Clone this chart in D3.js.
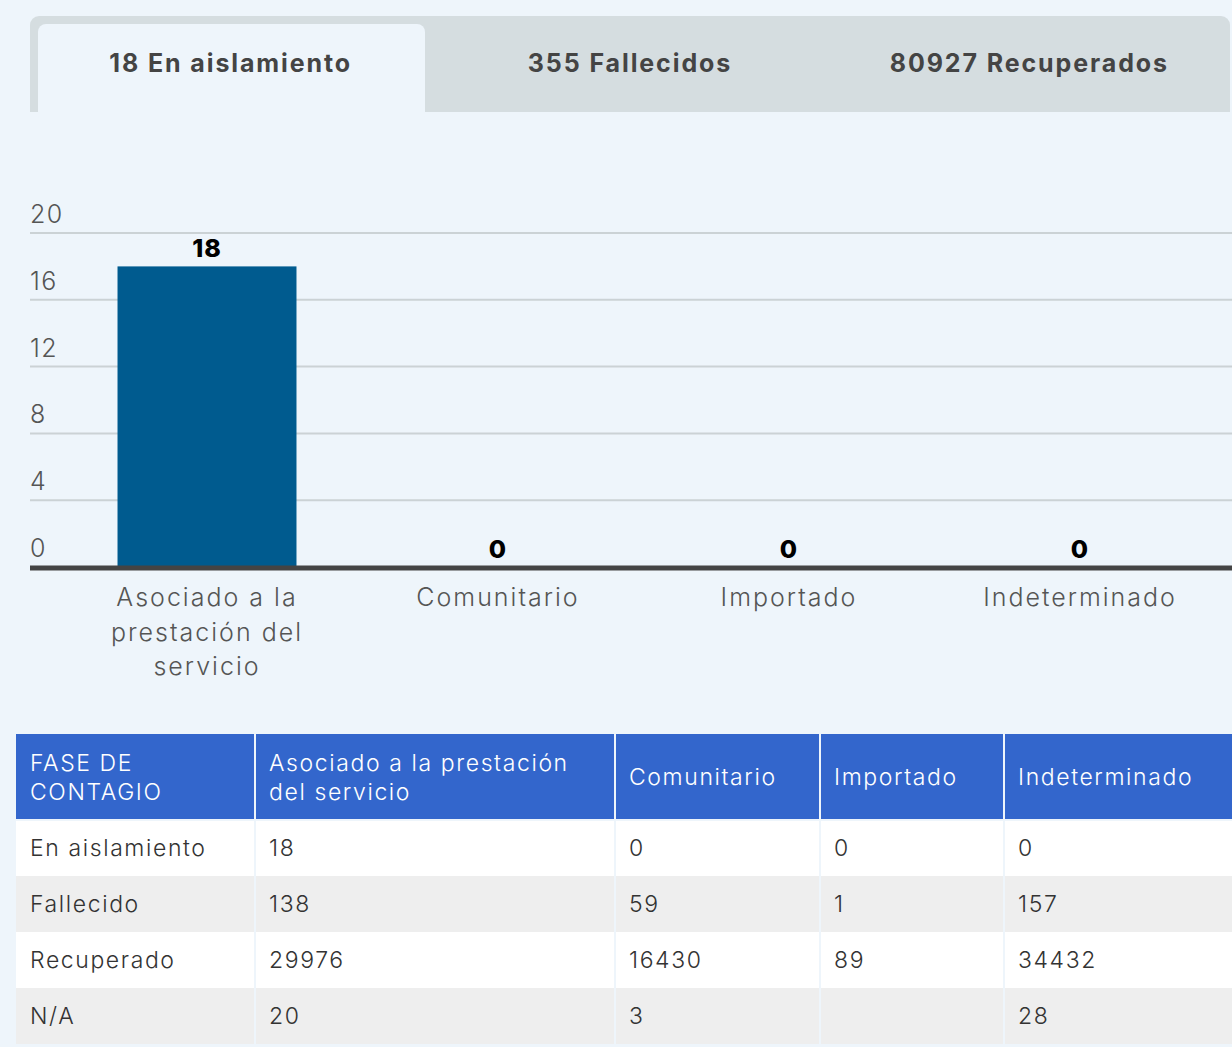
<!DOCTYPE html>
<html>
<head>
<meta charset="utf-8">
<script src="https://cdn.jsdelivr.net/npm/d3@7"></script>
<style>
  html, body { margin: 0; padding: 0; background: #eef5fb; }
  svg { display: block; font-family: "Inter", "Noto Sans", sans-serif; }
</style>
</head>
<body>
<div id="chart"></div>
<script>
// datos
const tabs = ['18 En aislamiento', '355 Fallecidos', '80927 Recuperados']
const categories = ['Asociado a la prestación del servicio', 'Comunitario', 'Importado', 'Indeterminado']
const aislamiento = [18, 0, 0, 0]
const yTicks = [0, 4, 8, 12, 16, 20]

const tableHeader = ['FASE DE CONTAGIO', 'Asociado a la prestación del servicio', 'Comunitario', 'Importado', 'Indeterminado']
const rowLabels = ['En aislamiento', 'Fallecido', 'Recuperado', 'N/A']
const colAsociado = [18, 138, 29976, 20]
const colComunitario = [0, 59, 16430, 3]
const colImportado = [0, 1, 89, null]
const colIndeterminado = [0, 157, 34432, 28]

const width = 1232, height = 1047

const svg = d3.select('#chart').append('svg')
  .attr('width', width)
  .attr('height', height)

// pestañas
svg.append('rect')
  .attr('x', 30).attr('y', 16).attr('width', 1200).attr('height', 110)
  .attr('rx', 9).attr('fill', '#d5dde0')
svg.append('rect') // tapa las esquinas inferiores
  .attr('x', 30).attr('y', 100).attr('width', 1202).attr('height', 30)
  .attr('fill', '#eef5fb')
svg.append('rect')
  .attr('x', 30).attr('y', 90).attr('width', 1200).attr('height', 22)
  .attr('fill', '#d5dde0')
svg.append('rect')
  .attr('x', 38).attr('y', 24).attr('width', 387).attr('height', 100)
  .attr('rx', 8).attr('fill', '#eef5fb')

const tabX = d3.scaleBand().domain(tabs).range([31, 1229])
svg.selectAll('.tab')
  .data(tabs)
  .enter()
  .append('text')
    .attr('x', d => tabX(d) + tabX.bandwidth() / 2)
    .attr('y', 72)
    .attr('text-anchor', 'middle')
    .style('font-size', '25px')
    .style('font-weight', 700)
    .style('letter-spacing', '1.9px')
    .style('fill', '#444')
    .text(d => d)

// gráfico de barras
const y = d3.scaleLinear().domain([0, 20]).range([567, 233])
const x = d3.scaleBand()
  .domain(categories)
  .range([61.5, 1225.5])
  .paddingInner(0.385)
  .paddingOuter(0.1925)

svg.selectAll('.grid')
  .data(yTicks.filter(d => d > 0))
  .enter()
  .append('line')
    .attr('x1', 30).attr('x2', width)
    .attr('y1', d => y(d)).attr('y2', d => y(d))
    .style('stroke', '#cbd2d5')
    .style('stroke-width', 2)

svg.selectAll('.ytick')
  .data(yTicks)
  .enter()
  .append('text')
    .attr('x', 30)
    .attr('y', d => y(d) - 10)
    .style('font-size', '25px')
    .style('font-weight', 300)
    .style('letter-spacing', '1.5px')
    .style('fill', '#555')
    .text(d => d)

svg.selectAll('.bar')
  .data(aislamiento)
  .enter()
  .append('rect')
    .attr('x', (d, i) => x(categories[i]))
    .attr('y', d => y(d))
    .attr('width', x.bandwidth())
    .attr('height', d => y(0) - y(d))
    .style('fill', '#005b8f')

svg.append('line')
  .attr('x1', 30).attr('x2', width)
  .attr('y1', y(0) + 1).attr('y2', y(0) + 1)
  .style('stroke', '#444')
  .style('stroke-width', 5)

svg.selectAll('.val')
  .data(aislamiento)
  .enter()
  .append('text')
    .attr('x', (d, i) => x(categories[i]) + x.bandwidth() / 2)
    .attr('y', d => y(d) - 9)
    .attr('text-anchor', 'middle')
    .style('font-size', '25px')
    .style('font-weight', 800)
    .style('letter-spacing', '1px')
    .style('fill', '#000')
    .text(d => d)

// texto en varias líneas
function wrap(sel, maxWidth, lineHeight) {
  sel.each(function () {
    const t = d3.select(this)
    const words = t.text().split(' ')
    const xPos = t.attr('x')
    t.text(null)
    let line = [], n = 0
    let ts = t.append('tspan').attr('x', xPos).attr('dy', 0)
    words.forEach(w => {
      line.push(w)
      ts.text(line.join(' '))
      if (ts.node().getComputedTextLength() > maxWidth && line.length > 1) {
        line.pop()
        ts.text(line.join(' '))
        line = [w]
        n++
        ts = t.append('tspan').attr('x', xPos).attr('dy', lineHeight).text(w)
      }
    })
    t.attr('data-lines', n + 1)
  })
}

svg.selectAll('.xlab')
  .data(categories)
  .enter()
  .append('text')
    .attr('x', d => x(d) + x.bandwidth() / 2)
    .attr('y', 606)
    .attr('text-anchor', 'middle')
    .style('font-size', '25px')
    .style('font-weight', 300)
    .style('letter-spacing', '2px')
    .style('fill', '#555')
    .text(d => d)
    .call(wrap, 205, 34.5)

// tabla
const colEdges = [16, 255, 615, 820, 1004, 1232]
const columns = [rowLabels, colAsociado, colComunitario, colImportado, colIndeterminado]
const rowY = d3.scaleBand().domain(d3.range(rowLabels.length)).range([820, 1044])
const headTop = 734

svg.append('rect')
  .attr('x', colEdges[0]).attr('y', headTop)
  .attr('width', width - colEdges[0]).attr('height', rowY.range()[0] - headTop)
  .style('fill', '#3366cc')

svg.selectAll('.row')
  .data(rowLabels)
  .enter()
  .append('rect')
    .attr('x', colEdges[0])
    .attr('y', (d, i) => rowY(i))
    .attr('width', width - colEdges[0])
    .attr('height', rowY.bandwidth())
    .style('fill', (d, i) => i % 2 ? '#eeeeee' : '#ffffff')

svg.selectAll('.sep')
  .data(colEdges.slice(1, -1))
  .enter()
  .append('line')
    .attr('x1', d => d).attr('x2', d => d)
    .attr('y1', headTop).attr('y2', 1044)
    .style('stroke', '#eef5fb')
    .style('stroke-width', 2)

svg.append('line')
  .attr('x1', colEdges[0]).attr('x2', width)
  .attr('y1', 820).attr('y2', 820)
  .style('stroke', '#eef5fb')
  .style('stroke-width', 2)

const heads = svg.selectAll('.head')
  .data(tableHeader)
  .enter()
  .append('text')
    .attr('x', (d, i) => colEdges[i] + 14)
    .attr('y', 0)
    .style('font-size', '23px')
    .style('font-weight', 300)
    .style('letter-spacing', '1.6px')
    .style('fill', '#fff')
    .text(d => d)
    .each(function (d, i) {
      d3.select(this).call(wrap, colEdges[i + 1] - colEdges[i] - 28, 29)
      const n = +d3.select(this).attr('data-lines')
      d3.select(this).attr('y', 777 + 8 - (n - 1) * 14.5)
    })

columns.forEach((col, c) => {
  svg.selectAll('.cell' + c)
    .data(col)
    .enter()
    .append('text')
      .attr('x', colEdges[c] + 14)
      .attr('y', (d, i) => rowY(i) + rowY.bandwidth() / 2 + 8)
      .style('font-size', '23px')
      .style('font-weight', 300)
      .style('letter-spacing', '1.6px')
      .style('fill', '#333')
      .text(d => d === null ? '' : d)
})
</script>
</body>
</html>
